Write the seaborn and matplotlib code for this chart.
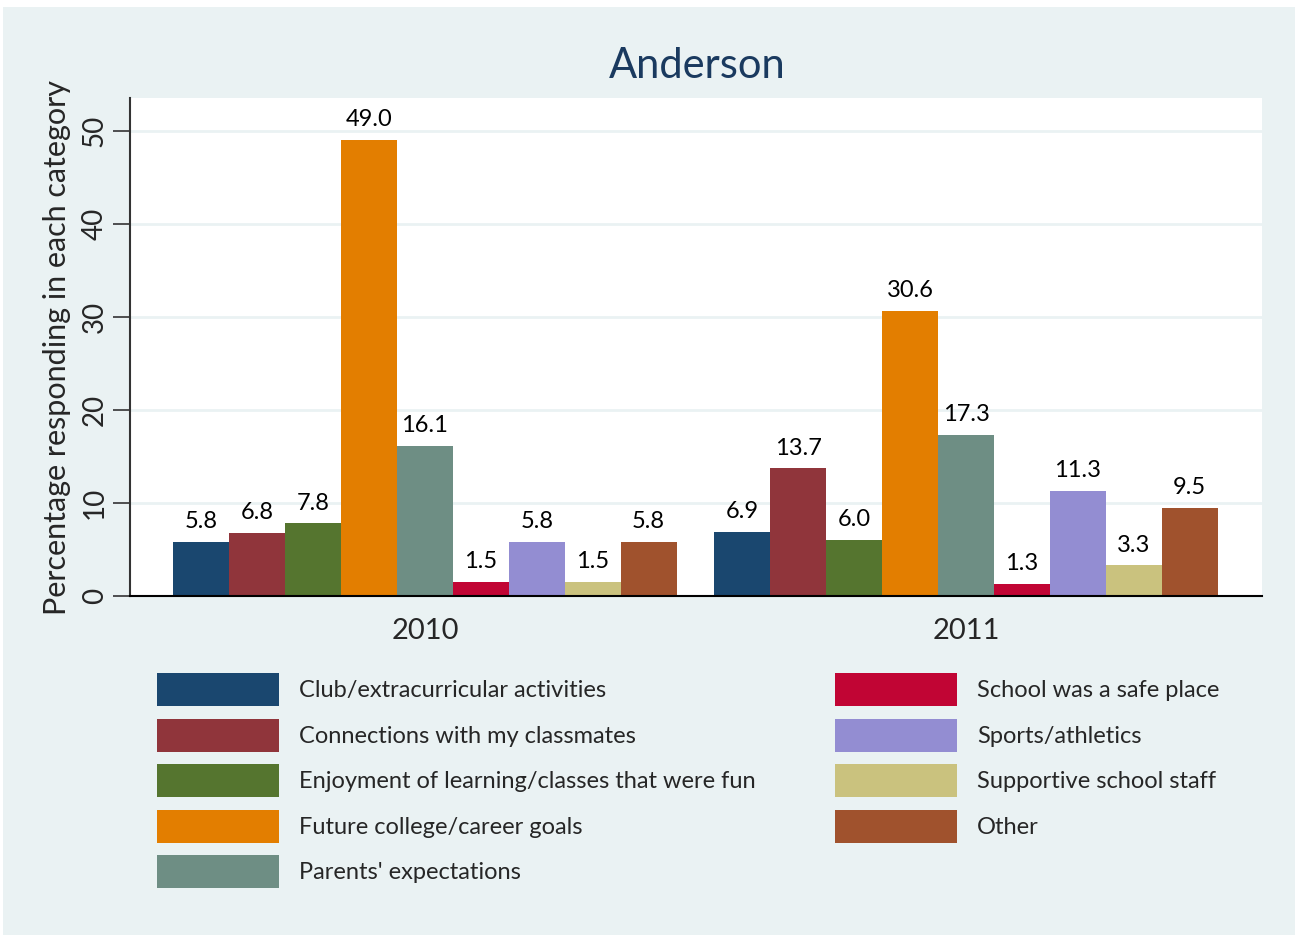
import matplotlib
matplotlib.use("Agg")
import matplotlib.pyplot as plt
import seaborn as sns
import pandas as pd
from matplotlib.patches import Rectangle

years = ["2010", "2011"]
categories = [
    "Club/extracurricular activities",
    "Connections with my classmates",
    "Enjoyment of learning/classes that were fun",
    "Future college/career goals",
    "Parents' expectations",
    "School was a safe place",
    "Sports/athletics",
    "Supportive school staff",
    "Other",
]
values_2010 = [5.8, 6.8, 7.8, 49.0, 16.1, 1.5, 5.8, 1.5, 5.8]
values_2011 = [6.9, 13.7, 6.0, 30.6, 17.3, 1.3, 11.3, 3.3, 9.5]
colors = ["#1A476F", "#90353B", "#55752F", "#E37E00", "#6E8E84",
          "#C10534", "#938DD2", "#CAC27E", "#A0522D"]

rows = []
for c, v in zip(categories, values_2010):
    rows.append({"year": "2010", "category": c, "value": v})
for c, v in zip(categories, values_2011):
    rows.append({"year": "2011", "category": c, "value": v})
df = pd.DataFrame(rows)

sns.set_style("white")
plt.rcParams["font.family"] = ["Lato", "DejaVu Sans"]

W, H = 1298, 938
fig = plt.figure(figsize=(W / 100, H / 100), dpi=100, facecolor="white")
bg = Rectangle((3 / W, 3 / H), 1292 / W, 928 / H, transform=fig.transFigure,
               facecolor="#EAF2F3", edgecolor="none", zorder=-10)
fig.patches.append(bg)

ax = fig.add_axes([130 / W, 1 - 596 / H, (1262 - 130) / W, (596 - 98) / H])
ax.set_facecolor("white")

sns.barplot(data=df, x="year", y="value", hue="category", hue_order=categories,
            order=years, palette=colors, width=0.93, gap=0, ax=ax,
            saturation=1, errorbar=None, legend=False, edgecolor="none")

for cont in ax.containers:
    ax.bar_label(cont, fmt="%.1f", padding=7, fontsize=17, color="black")

ax.set_xlim(-0.545, 1.547)
ax.set_ylim(0, 53.5)
ax.set_yticks([0, 10, 20, 30, 40, 50])
ax.set_yticklabels(["0", "10", "20", "30", "40", "50"], rotation=90, va="center", fontsize=20)
ax.tick_params(axis="y", length=12, width=1.2, color="#333333", pad=4, left=True)
ax.tick_params(axis="x", length=0, pad=16, labelsize=21)
ax.yaxis.grid(True, color="#EAF2F3", linewidth=2)
ax.set_axisbelow(True)
for s in ["top", "right"]:
    ax.spines[s].set_visible(False)
ax.spines["left"].set_color("#333333")
ax.spines["left"].set_linewidth(1.5)
ax.spines["bottom"].set_color("black")
ax.spines["bottom"].set_linewidth(1.5)
ax.set_xlabel("")
ax.set_ylabel("Percentage responding in each category", fontsize=22, labelpad=8)

fig.text(697 / W, 1 - 66 / H, "Anderson", ha="center", va="center",
         fontsize=30, color="#1A3A5F")

handles = [Rectangle((0, 0), 1, 1, facecolor=c, edgecolor="none") for c in colors]
fs = 17
common = dict(frameon=False, fontsize=fs, handlelength=5.17, handleheight=1.774,
              handletextpad=0.85, labelspacing=0.53, borderpad=0, borderaxespad=0,
              loc="upper left")
leg1 = fig.legend(handles[:5], categories[:5], bbox_to_anchor=(157 / W, 1 - 673 / H), **common)
leg2 = fig.legend(handles[5:], categories[5:], bbox_to_anchor=(835 / W, 1 - 673 / H), **common)

fig.savefig("out.png", dpi=100, facecolor="white")
